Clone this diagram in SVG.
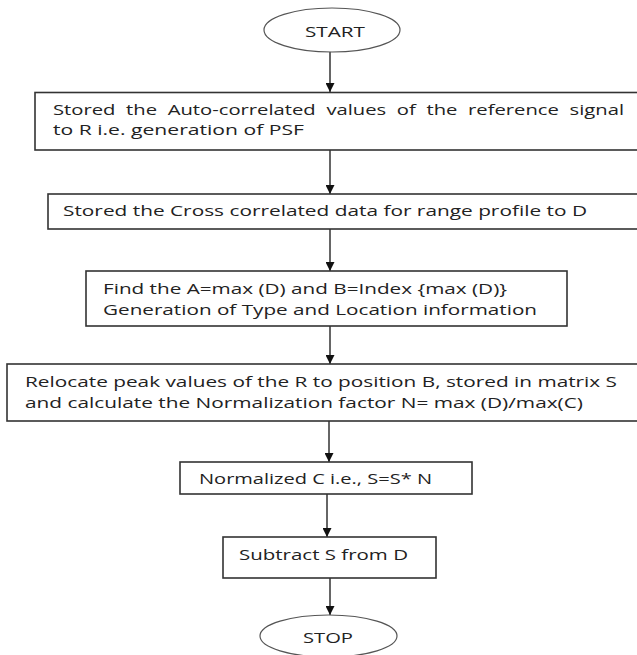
<svg xmlns="http://www.w3.org/2000/svg" width="637" height="655" viewBox="0 0 637 655">
<defs>
<style>
.box{fill:#fff;stroke:#333;stroke-width:1.6}
.oval{fill:#fff;stroke:#555;stroke-width:1.2}
.t{font-family:"Open Sans","DejaVu Sans",sans-serif;font-size:15px;fill:#222}
.c{stroke:#333;stroke-width:1.5;fill:none;marker-end:url(#ah)}
</style>
<marker id="ah" viewBox="0 0 10 10" refX="10" refY="5" markerWidth="9" markerHeight="9" markerUnits="userSpaceOnUse" orient="auto">
<path d="M0,0 L10,5 L0,10 z" fill="#111"/>
</marker>
</defs>
<rect width="637" height="655" fill="#fff"/>
<g id="connectors">
<line class="c" x1="330" y1="52" x2="330" y2="92"/>
<line class="c" x1="330" y1="150" x2="330" y2="194"/>
<line class="c" x1="330" y1="229" x2="330" y2="271"/>
<line class="c" x1="330" y1="326" x2="330" y2="364"/>
<line class="c" x1="329" y1="421" x2="329" y2="462"/>
<line class="c" x1="327" y1="494" x2="327" y2="537"/>
<line class="c" x1="330" y1="578" x2="330" y2="615"/>
</g>
<g id="start">
<ellipse class="oval" cx="332" cy="30" rx="68" ry="22"/>
<text class="t" x="305" y="37" textLength="60" lengthAdjust="spacingAndGlyphs">START</text>
</g>
<g id="n1">
<rect class="box" x="35" y="92.5" width="620" height="57.5"/>
<text class="t" x="53" y="115" textLength="571" lengthAdjust="spacingAndGlyphs" word-spacing="4">Stored the Auto-correlated values of the reference signal</text>
<text class="t" x="53" y="135" textLength="251" lengthAdjust="spacingAndGlyphs">to R i.e. generation of PSF</text>
</g>
<g id="n2">
<rect class="box" x="48" y="194" width="610" height="35"/>
<text class="t" x="63" y="216" textLength="524" lengthAdjust="spacingAndGlyphs">Stored the Cross correlated data for range profile to D</text>
</g>
<g id="n3">
<rect class="box" x="86" y="271" width="481" height="55"/>
<text class="t" x="103" y="294" textLength="404" lengthAdjust="spacingAndGlyphs">Find the A=max (D) and B=Index {max (D)}</text>
<text class="t" x="103" y="315" textLength="434" lengthAdjust="spacingAndGlyphs">Generation of Type and Location information</text>
</g>
<g id="n4">
<rect class="box" x="7" y="364" width="650" height="57"/>
<text class="t" x="25" y="387" textLength="592" lengthAdjust="spacingAndGlyphs">Relocate peak values of the R to position B, stored in matrix S</text>
<text class="t" x="25" y="408" textLength="558" lengthAdjust="spacingAndGlyphs">and calculate the Normalization factor N= max (D)/max(C)</text>
</g>
<g id="n5">
<rect class="box" x="180" y="462" width="292" height="32"/>
<text class="t" x="199" y="484" textLength="233" lengthAdjust="spacingAndGlyphs">Normalized C i.e., S=S* N</text>
</g>
<g id="n6">
<rect class="box" x="223" y="537" width="213" height="41"/>
<text class="t" x="239" y="560" textLength="169" lengthAdjust="spacingAndGlyphs">Subtract S from D</text>
</g>
<g id="stop">
<ellipse class="oval" cx="328.5" cy="636" rx="68.5" ry="21"/>
<text class="t" x="303" y="643" textLength="50" lengthAdjust="spacingAndGlyphs">STOP</text>
</g>
</svg>
